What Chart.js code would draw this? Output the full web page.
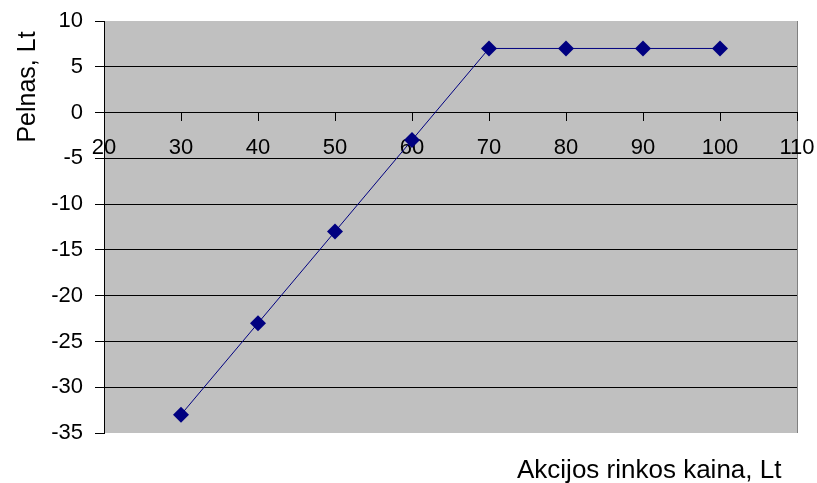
<!DOCTYPE html>
<html>
<head>
<meta charset="utf-8">
<script src="https://cdn.jsdelivr.net/npm/chart.js@4/dist/chart.umd.min.js"></script>
<style>
  html, body { margin: 0; padding: 0; background: #fff; }
  #wrap { width: 817px; height: 483px; }
</style>
</head>
<body>
<div id="wrap"><canvas id="c" width="817" height="483"></canvas></div>
<script>
// Stock market price (Lt) and the resulting profit (Lt)
const prices = [30, 40, 50, 60, 70, 80, 90, 100];
const profit = [-33, -23, -13, -3, 7, 7, 7, 7];

const xTitle = 'Akcijos rinkos kaina, Lt';
const yTitle = 'Pelnas, Lt';

const tickFont = { family: "'Liberation Sans', Arial, sans-serif", size: 22 };
const titleFamily = "'Liberation Sans', Arial, sans-serif";

// Gray plot background plus the darker right edge
const plotBackground = {
  id: 'plotBackground',
  beforeDraw(chart) {
    const { ctx, chartArea: a } = chart;
    ctx.save();
    ctx.fillStyle = '#c0c0c0';
    ctx.fillRect(a.left, a.top, a.right - a.left, a.bottom - a.top);
    ctx.strokeStyle = '#808080';
    ctx.lineWidth = 1;
    ctx.beginPath();
    ctx.moveTo(a.right + 0.5, a.top);
    ctx.lineTo(a.right + 0.5, a.bottom);
    ctx.stroke();
    ctx.restore();
  }
};

// Axis titles: vertical one near the top-left, horizontal one bottom-right
const axisTitles = {
  id: 'axisTitles',
  afterDraw(chart) {
    const { ctx } = chart;
    ctx.save();
    ctx.fillStyle = '#000';
    ctx.font = '26px ' + titleFamily;
    ctx.textAlign = 'left';
    ctx.textBaseline = 'alphabetic';
    ctx.fillText(xTitle, 517, 478);
    ctx.translate(35, 87);
    ctx.rotate(-Math.PI / 2);
    ctx.font = '25px ' + titleFamily;
    ctx.textAlign = 'center';
    ctx.fillText(yTitle, 0, 0);
    ctx.restore();
  }
};

// Keep the plot area fixed regardless of label overflow
function noOverflow(scale) {
  scale.paddingLeft = 0;
  scale.paddingRight = 0;
  scale.paddingTop = 0;
  scale.paddingBottom = 0;
}

new Chart(document.getElementById('c'), {
  type: 'scatter',
  data: {
    datasets: [{
      data: prices.map((p, i) => ({ x: p, y: profit[i] })),
      showLine: true,
      borderColor: '#000080',
      borderWidth: 1,
      backgroundColor: '#000080',
      pointStyle: 'rectRot',
      pointRadius: 8,
      pointHoverRadius: 8,
      pointBorderWidth: 0
    }]
  },
  options: {
    responsive: false,
    animation: false,
    events: [],
    layout: { padding: { top: 21, right: 20, bottom: 50, left: 0 } },
    plugins: { legend: { display: false }, tooltip: { enabled: false } },
    scales: {
      x: {
        type: 'linear',
        position: { y: 0 },
        min: 20, max: 110,
        afterFit: noOverflow,
        ticks: { stepSize: 10, color: '#000', font: tickFont, padding: 14, maxRotation: 0 },
        grid: { drawOnChartArea: false, drawTicks: true, tickLength: 8, tickColor: '#000' },
        border: { color: '#000', width: 1 }
      },
      y: {
        type: 'linear',
        position: 'left',
        min: -35, max: 10,
        afterFit(scale) { scale.width = 104; noOverflow(scale); },
        ticks: { stepSize: 5, color: '#000', font: tickFont, padding: 12 },
        grid: {
          color: (c) => (c.tick && (c.tick.value === 10 || c.tick.value === -35)) ? 'rgba(0,0,0,0)' : '#000',
          lineWidth: 1,
          drawTicks: true,
          tickLength: 9,
          tickColor: '#000'
        },
        border: { color: '#000', width: 1 }
      }
    }
  },
  plugins: [plotBackground, axisTitles]
});
</script>
</body>
</html>
